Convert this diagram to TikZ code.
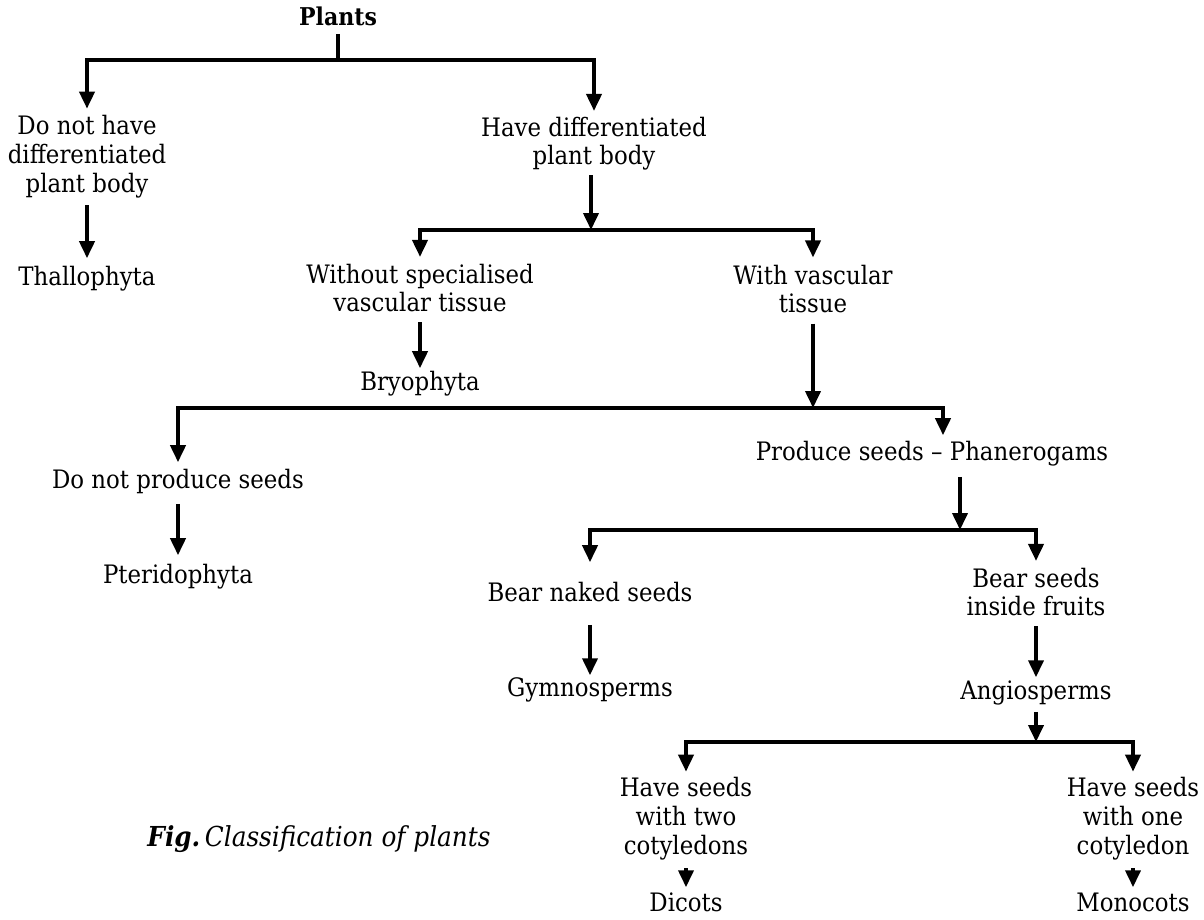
\documentclass[tikz,border=0pt]{standalone}
\usepackage{fontspec}
\setmainfont{DejaVu Serif}[FakeStretch=0.9]
\usetikzlibrary{arrows.meta}
\begin{document}
\begin{tikzpicture}[x=1pt,y=-1pt,
  lbl/.style={inner sep=0pt, outer sep=0pt, align=center, font=\fontsize{25.4}{27.5}\selectfont},
  conn/.style={line width=3.8pt},
  arr/.style={conn, -{Triangle[length=17pt,width=15pt]}}]
\useasboundingbox (0,0) rectangle (1204,919);
\newcommand{\st}{\strut}
% nodes
\node[lbl, font=\fontsize{24.5}{27.5}\selectfont\bfseries] (plants) at (338,20) {Plants\st};
\node[lbl] (dnh) at (87,158) {Do not have\st\\differentiated\st\\plant body\st};
\node[lbl] (thal) at (87,280) {Thallophyta\st};
\node[lbl] (hdp) at (594,145) {Have differentiated\st\\plant body\st};
\node[lbl] (wsv) at (420,292) {Without specialised\st\\vascular tissue\st};
\node[lbl] (bryo) at (420,385) {Bryophyta\st};
\node[lbl] (wvt) at (813,293) {With vascular\st\\tissue\st};
\node[lbl] (dnps) at (178,483) {Do not produce seeds\st};
\node[lbl] (pter) at (178,578) {Pteridophyta\st};
\node[lbl] (psp) at (932,455) {Produce seeds -- Phanerogams\st};
\node[lbl] (bns) at (590,596) {Bear naked seeds\st};
\node[lbl] (gym) at (590,691) {Gymnosperms\st};
\node[lbl] (bsif) at (1036,596) {Bear seeds\st\\inside fruits\st};
\node[lbl] (angio) at (1036,694) {Angiosperms\st};
\node[lbl] (hs2) at (686,820) {Have seeds\st\\with two\st\\cotyledons\st};
\node[lbl] (dicots) at (686,906) {Dicots\st};
\node[lbl] (hs1) at (1133,820) {Have seeds\st\\with one\st\\cotyledon\st};
\node[lbl] (mono) at (1133,906) {Monocots\st};
\node[lbl, font=\fontsize{27.5}{27.5}\selectfont] (cap) at (319,840) {{\bfseries\itshape Fig.}\,{\itshape Classification of plants}\st};
% junctions
\coordinate (j1) at (338,60);
\coordinate (j2) at (591,230);
\coordinate (j3) at (813,408);
\coordinate (j4) at (960,530);
\coordinate (j5) at (1036,742);
% connectors
\draw[conn] (plants.south) -- (j1);
\draw[arr, shorten >=7pt] (j1) -| (dnh.north);
\draw[arr, shorten >=6pt] (j1) -| (hdp.north);
\draw[arr, shorten <=5pt, shorten >=8pt] (dnh.south) -- (thal.north);
\draw[arr, shorten <=2pt] (hdp.south -| j2) -- (j2);
\draw[arr, shorten >=7pt] (j2) -| (wsv.north);
\draw[arr, shorten >=8pt] (j2) -| (wvt.north);
\draw[arr, shorten <=2pt, shorten >=3pt] (wsv.south) -- (bryo.north);
\draw[arr, shorten <=3pt] (wvt.south) -- (j3);
\draw[arr, shorten >=7pt] (j3) -| (dnps.north);
\draw[arr, shorten >=6pt] (j3) -| ([xshift=11pt]psp.north);
\draw[arr, shorten <=7pt, shorten >=9pt] (dnps.south) -- (pter.north);
\draw[arr, shorten <=8pt] (psp.south -| j4) -- (j4);
\draw[arr, shorten >=20pt] (j4) -| (bns.north);
\draw[arr, shorten >=7pt] (j4) -| (bsif.north);
\draw[arr, shorten <=15pt, shorten >=2pt] (bns.south) -- (gym.north);
\draw[arr, shorten <=2pt, shorten >=3pt] (bsif.south) -- (angio.north);
\draw[arr, shorten <=4pt] (angio.south) -- (j5);
\draw[arr, shorten >=6pt] (j5) -| (hs2.north);
\draw[arr, shorten >=6pt] (j5) -| (hs1.north);
\draw[arr, shorten <=6pt, shorten >=5pt] (hs2.south) -- (dicots.north);
\draw[arr, shorten <=6pt, shorten >=5pt] (hs1.south) -- (mono.north);
\end{tikzpicture}
\end{document}
